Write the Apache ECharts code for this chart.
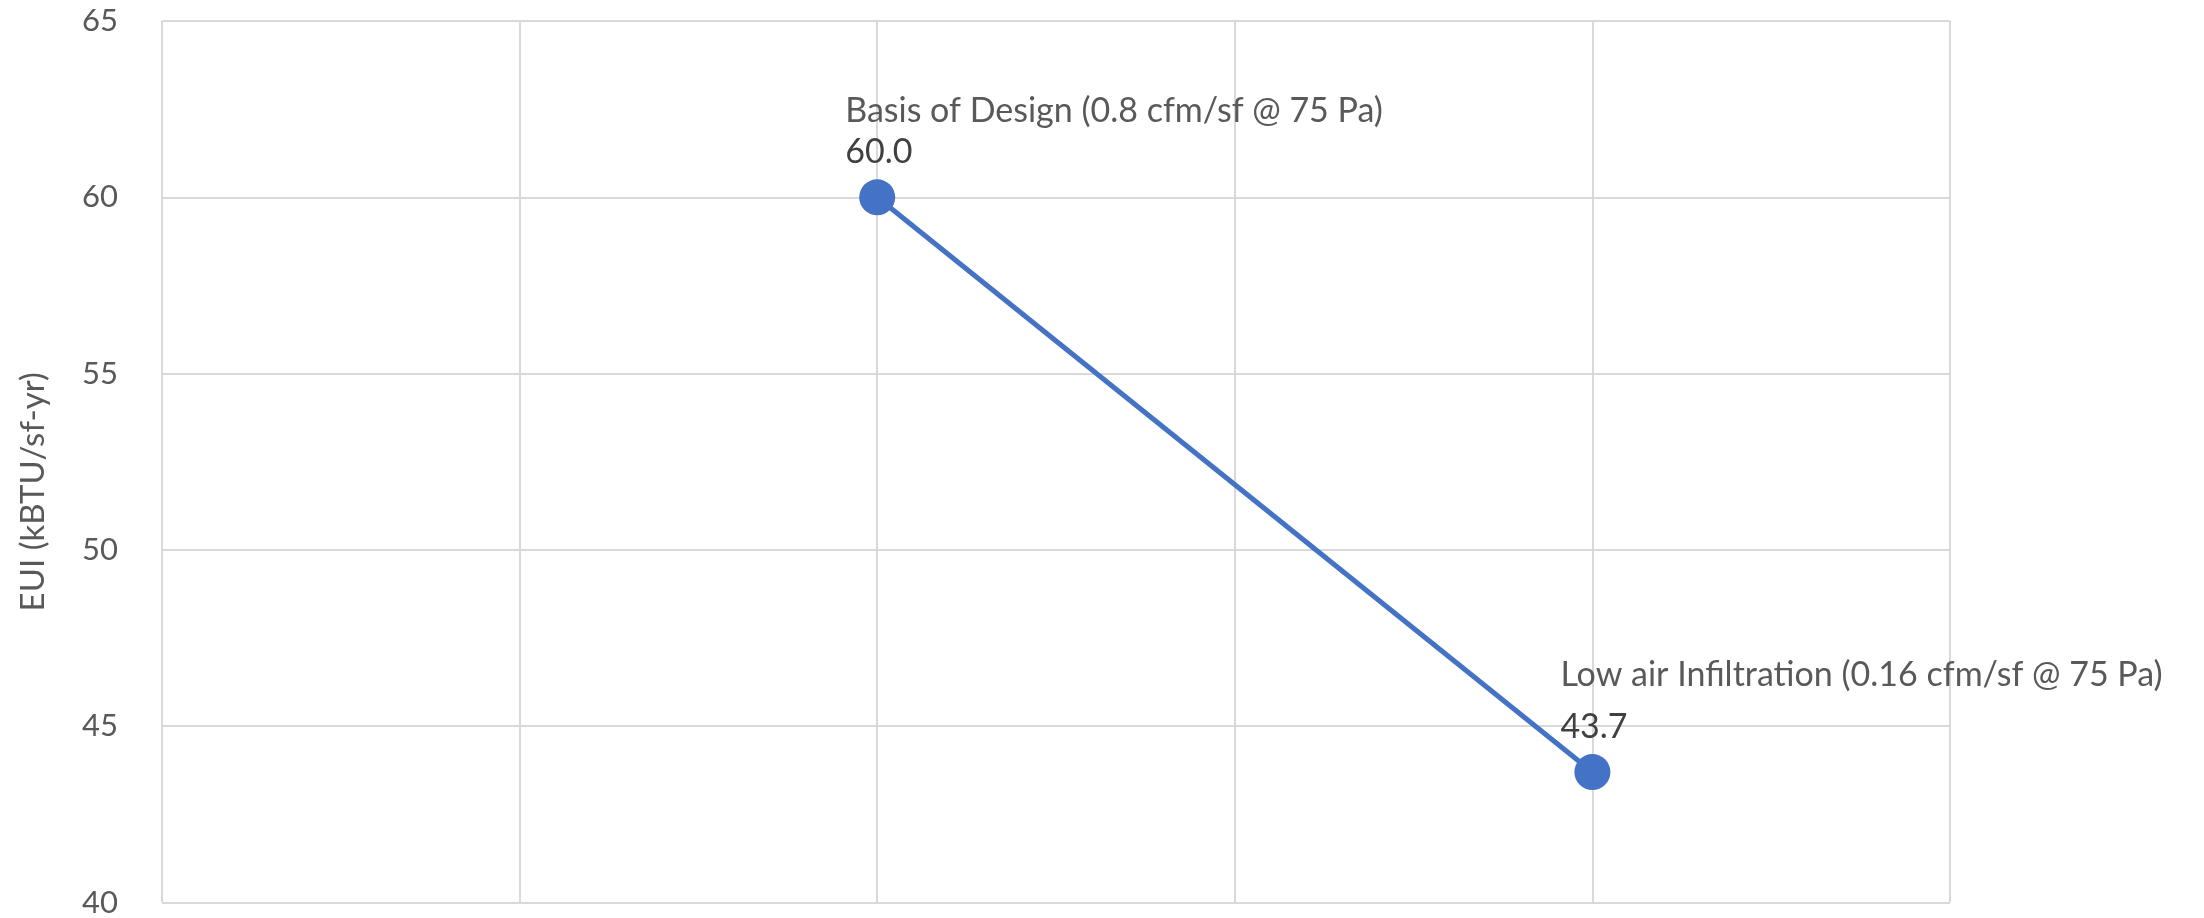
<!DOCTYPE html>
<html>
<head>
<meta charset="utf-8">
<script src="https://cdn.jsdelivr.net/npm/echarts@6/dist/echarts.min.js"></script>
<style>
  html, body { margin: 0; padding: 0; background: #fff; }
  #main_echart { width: 2204px; height: 918px; }
</style>
</head>
<body>
<div id="main_echart"></div>
<script>
var caseNames = ['Basis of Design (0.8 cfm/sf @ 75 Pa)', 'Low air Infiltration (0.16 cfm/sf @ 75 Pa)'];
var xPos = [2, 4];
var eui = [60.0, 43.7];

var font = 'Lato';
var myChart = echarts.init(document.getElementById('main_echart'));

var points = [];
for (var i = 0; i < eui.length; i++) {
    points.push([xPos[i], eui[i]]);
}

var option = {
    animation: false,
    grid: {
        left: 162,
        right: 254,
        top: 21,
        bottom: 14
    },
    xAxis: {
        type: 'value',
        min: 0,
        max: 5,
        interval: 1,
        axisLine: {show: false},
        axisTick: {show: false},
        axisLabel: {show: false},
        splitLine: {show: true, lineStyle: {color: '#d9d9d9', width: 2}}
    },
    yAxis: {
        type: 'value',
        min: 40,
        max: 65,
        interval: 5,
        name: 'EUI (kBTU/sf-yr)',
        nameLocation: 'middle',
        nameGap: 112,
        nameTextStyle: {fontFamily: font, fontSize: 33, color: '#595959', padding: [0, 60, 0, 0]},
        axisLine: {show: false},
        axisTick: {show: false},
        axisLabel: {fontFamily: font, fontSize: 31, color: '#595959', margin: 44},
        splitLine: {show: true, lineStyle: {color: '#d9d9d9', width: 2}}
    },
    series: [{
        type: 'line',
        data: points,
        symbol: 'circle',
        symbolSize: 36,
        itemStyle: {color: '#4472C4'},
        lineStyle: {color: '#4472C4', width: 5},
        label: {
            show: true,
            position: 'top',
            distance: 8,
            align: 'left',
            offset: [-32, 0],
            formatter: function (p) {
                var key = p.dataIndex === 0 ? 'n0' : 'n1';
                return '{' + key + '|' + caseNames[p.dataIndex] + '}\n{v|' + eui[p.dataIndex].toFixed(1) + '}';
            },
            rich: {
                n0: {fontFamily: font, fontSize: 34, color: '#595959', lineHeight: 45},
                n1: {fontFamily: font, fontSize: 34, color: '#595959', lineHeight: 66},
                v: {fontFamily: font, fontSize: 34, color: '#404040', lineHeight: 38}
            }
        }
    }]
};

myChart.setOption(option);
</script>
</body>
</html>
